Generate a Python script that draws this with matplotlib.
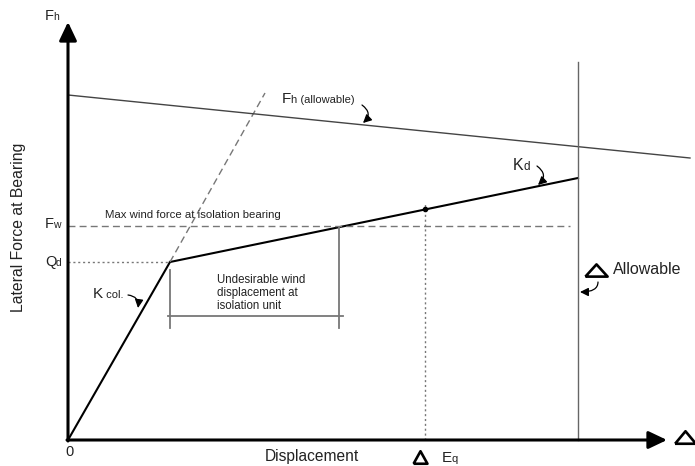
import matplotlib
matplotlib.use("Agg")
import matplotlib.pyplot as plt
import numpy as np

plt.rcParams["font.family"] = ["Liberation Sans", "DejaVu Sans"]

# --- diagram values (displacement, force) in arbitrary units ---
origin = (0.0, 0.0)
yield_disp = 1.02          # end of K col branch
Qd = 1.78                  # characteristic strength
Fw = 2.14                  # max wind force
kd_end = (5.10, 2.62)      # end of Kd branch at allowable displacement
eq_disp = 3.57             # earthquake displacement
allow_disp = 5.10          # allowable displacement
kcol_ext = (1.97, 3.47)    # dashed continuation of K col
fh_allow_x = [0.0, 6.22]
fh_allow_y = [3.45, 2.82]
bracket_x = [1.02, 2.75]
bracket_y = 1.24
x_tip = 5.99
y_tip = 4.18

TXT = "#222222"

fig = plt.figure(figsize=(6.95, 4.66), dpi=100)
ax = fig.add_axes([0, 0, 1, 1])
ax.set_xlim(-0.68, 6.27)
ax.set_ylim(-0.26, 4.40)
ax.axis("off")

# bilinear curve
kd_slope = (kd_end[1] - Qd) / (kd_end[0] - yield_disp)
ax.plot([origin[0], yield_disp], [origin[1], Qd], color="black", lw=1.5)
ax.plot([yield_disp, kd_end[0]], [Qd, kd_end[1]], color="black", lw=1.5)
ax.plot([yield_disp, kcol_ext[0]], [Qd, kcol_ext[1]], color="#777777", lw=1.0,
        ls=(0, (5, 3)))
ax.plot(fh_allow_x, fh_allow_y, color="#444444", lw=1.0)

# reference lines
ax.plot([0, 5.02], [Fw, Fw], color="#777777", lw=1.0, ls=(0, (5, 3)))
ax.plot([0, yield_disp], [Qd, Qd], color="#777777", lw=1.0, ls=(0, (1.5, 2)))
eq_force = Qd + (eq_disp - yield_disp) * kd_slope
ax.plot([eq_disp, eq_disp], [0, eq_force + 0.07], color="#777777", lw=1.0,
        ls=(0, (1.5, 2)))
ax.plot([eq_disp], [eq_force], "o", color="black", ms=3)
ax.plot([allow_disp, allow_disp], [0, 3.78], color="#666666", lw=1.0)

# undesirable wind displacement bracket
bx_r = bracket_x[1] - 0.04
ax.plot([bracket_x[0] - 0.02, bracket_x[1]], [bracket_y, bracket_y],
        color="#777777", lw=1.3)
ax.plot([bracket_x[0], bracket_x[0]], [bracket_y - 0.12, Qd - 0.08],
        color="#777777", lw=1.3)
ax.plot([bx_r, bx_r], [bracket_y - 0.12, Qd + (bx_r - yield_disp) * kd_slope],
        color="#777777", lw=1.3)

# axes arrows
arrow = dict(arrowstyle="-|>,head_length=0.8,head_width=0.38", color="black",
             lw=2.2, mutation_scale=14, shrinkA=0, shrinkB=0)
ax.annotate("", xy=(x_tip, 0), xytext=(-0.01, 0), arrowprops=arrow)
ax.annotate("", xy=(0, y_tip), xytext=(0, -0.01), arrowprops=arrow)


def sub_label(x, y, main, small, size=10, small_size=7):
    r = fig.canvas.get_renderer()
    t = ax.text(x, y, main, fontsize=size, va="baseline", ha="left", color=TXT)
    w = t.get_window_extent(r).width * 72 / fig.dpi
    ax.annotate(small, xy=(x, y), xytext=(w - 0.4, 0), textcoords="offset points",
                fontsize=small_size, va="baseline", ha="left", color=TXT)


def delta(x, y, aspect, size):
    verts = [(-1, -aspect), (1, -aspect), (0, aspect), (-1, -aspect)]
    ax.plot([x], [y], marker=verts, ms=size, mfc="white", mec="black",
            mew=1.9, ls="none")


sub_label(-0.23, 4.20, "F", "h", 10.5, 7.5)
sub_label(-0.23, 2.12, "F", "w", 10.5, 7.5)
sub_label(-0.23, 1.74, "Q", "d", 10.5, 7.5)
sub_label(2.14, 3.37, "F", "h (allowable)", 11, 8)
sub_label(4.45, 2.70, "K", "d", 11.5, 8.5)
sub_label(0.25, 1.42, "K", " col.", 11, 8)
sub_label(3.74, -0.22, "E", "q", 11, 8)

ax.text(0.01, -0.12, "0", fontsize=10.5, ha="center", va="center", color=TXT)
ax.text(2.44, -0.16, "Displacement", fontsize=11.2, ha="center", va="center",
        color=TXT)
ax.text(-0.49, 2.13, "Lateral Force at Bearing", fontsize=11.3, rotation=90,
        ha="center", va="center", color=TXT)
ax.text(0.37, 2.25, "Max wind force at isolation bearing", fontsize=8.2,
        ha="left", va="center", color=TXT)
ax.text(1.49, 1.66, "Undesirable wind\ndisplacement at\nisolation unit",
        fontsize=8.3, ha="left", va="top", linespacing=1.12, color=TXT)
ax.text(5.45, 1.70, "Allowable", fontsize=11.5, ha="left", va="center",
        color=TXT)
delta(5.28, 1.70, 0.55, 16)
delta(3.52, -0.165, 0.9, 10)
delta(6.17, 0.035, 0.6, 15)

# small curved pointers
ptr = dict(arrowstyle="-|>,head_length=0.5,head_width=0.25", color="black",
           lw=0.9, connectionstyle="arc3,rad=-0.6", shrinkA=0, shrinkB=0)
ax.annotate("", xy=(2.95, 3.17), xytext=(2.94, 3.35), arrowprops=ptr)
ax.annotate("", xy=(4.70, 2.55), xytext=(4.69, 2.74), arrowprops=ptr)
ax.annotate("", xy=(0.70, 1.32), xytext=(0.60, 1.45),
            arrowprops=dict(ptr, connectionstyle="arc3,rad=-0.5"))
ax.annotate("", xy=(5.12, 1.48), xytext=(5.30, 1.58),
            arrowprops=dict(ptr, connectionstyle="angle3,angleA=90,angleB=0"))

fig.savefig("out.png", dpi=100)
